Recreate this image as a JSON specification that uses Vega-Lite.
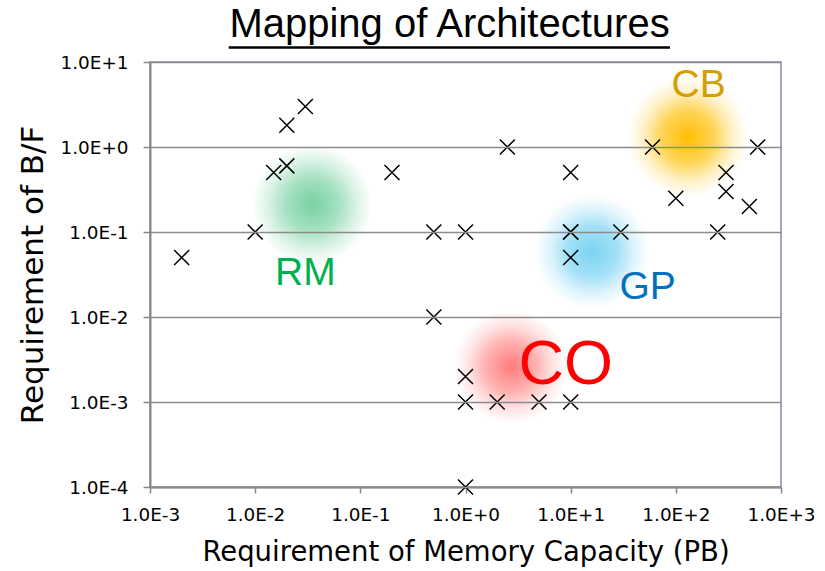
{
  "$schema": "https://vega.github.io/schema/vega-lite/v6.json",
  "width": 631,
  "height": 425,
  "autosize": {"type": "none"},
  "padding": {"left": 150, "top": 62, "right": 44, "bottom": 84},
  "background": "white",
  "title": {"text": "Mapping of Architectures", "font": "Liberation Sans", "fontSize": 40, "fontWeight": "normal", "color": "black", "anchor": "middle", "dx": -16, "offset": 1},
  "config": {
    "view": {"stroke": "#7F8CB0", "strokeWidth": 1.5},
    "axis": {"labelFont": "DejaVu Sans", "titleFont": "DejaVu Sans", "labelColor": "black", "titleColor": "black", "titleFontWeight": "normal"}
  },
  "datasets": {
    "points": [
      {"cap": 0.002, "bf": 0.05},
      {"cap": 0.01, "bf": 0.1},
      {"cap": 0.015, "bf": 0.5},
      {"cap": 0.02, "bf": 0.6},
      {"cap": 0.02, "bf": 1.8},
      {"cap": 0.03, "bf": 3},
      {"cap": 0.2, "bf": 0.5},
      {"cap": 0.5, "bf": 0.1},
      {"cap": 1, "bf": 0.1},
      {"cap": 0.5, "bf": 0.01},
      {"cap": 1, "bf": 0.002},
      {"cap": 1, "bf": 0.001},
      {"cap": 2, "bf": 0.001},
      {"cap": 5, "bf": 0.001},
      {"cap": 10, "bf": 0.001},
      {"cap": 1, "bf": 0.0001},
      {"cap": 2.5, "bf": 1},
      {"cap": 10, "bf": 0.5},
      {"cap": 10, "bf": 0.1},
      {"cap": 10, "bf": 0.1},
      {"cap": 10, "bf": 0.05},
      {"cap": 30, "bf": 0.1},
      {"cap": 60, "bf": 1},
      {"cap": 100, "bf": 0.25},
      {"cap": 300, "bf": 0.5},
      {"cap": 300, "bf": 0.3},
      {"cap": 500, "bf": 0.2},
      {"cap": 600, "bf": 1},
      {"cap": 250, "bf": 0.1}
    ],
    "blobs": [
      {"group": "RM", "cap": 0.035, "bf": 0.21},
      {"group": "GP", "cap": 16, "bf": 0.059},
      {"group": "CB", "cap": 130, "bf": 1.32},
      {"group": "CO", "cap": 2.7, "bf": 0.0026}
    ],
    "labels": [
      {"label": "RM", "cap": 0.03, "bf": 0.033},
      {"label": "GP", "cap": 54, "bf": 0.0225},
      {"label": "CB", "cap": 165, "bf": 5.4},
      {"label": "CO", "cap": 9, "bf": 0.0027}
    ],
    "underline": [
      {"from": 0.0056, "to": 88, "level": 14.8}
    ]
  },
  "encoding": {
    "x": {
      "field": "cap", "type": "quantitative",
      "scale": {"type": "log", "domain": [0.001, 1000]},
      "axis": {
        "title": "Requirement of Memory Capacity (PB)", "titleFontSize": 27.5, "titlePadding": 15,
        "values": [0.001, 0.01, 0.1, 1, 10, 100, 1000],
        "labelExpr": "'1.0E' + (round(log(datum.value)/LN10) >= 0 ? '+' : '') + round(log(datum.value)/LN10)",
        "labelFontSize": 18.4, "labelPadding": 12, "labelFlush": false,
        "grid": false, "domainColor": "#888888", "domainWidth": 2,
        "tickColor": "#888888", "tickSize": 6, "tickWidth": 1.5
      }
    },
    "y": {
      "field": "bf", "type": "quantitative",
      "scale": {"type": "log", "domain": [0.0001, 10]},
      "axis": {
        "title": "Requirement of  B/F", "titleFontSize": 31, "titlePadding": 11,
        "values": [0.0001, 0.001, 0.01, 0.1, 1, 10],
        "labelExpr": "'1.0E' + (round(log(datum.value)/LN10) >= 0 ? '+' : '') + round(log(datum.value)/LN10)",
        "labelFontSize": 18.4, "labelPadding": 15, "labelFlush": false,
        "grid": true, "gridColor": "#8c8c8c", "gridWidth": 1.5,
        "domainColor": "#888888", "domainWidth": 2,
        "tickColor": "#888888", "tickSize": 7, "tickWidth": 1.5,
        "zindex": 1
      }
    }
  },
  "layer": [
    {
      "data": {"name": "blobs"},
      "transform": [{"filter": {"field": "group", "equal": "RM"}}],
      "mark": {"type": "point", "shape": "circle", "size": 14400, "filled": true, "opacity": 1, "strokeWidth": 0,
        "fill": {"gradient": "radial", "stops": [
          {"offset": 0, "color": "rgba(60,190,120,0.7)"},
          {"offset": 0.45, "color": "rgba(60,190,120,0.45)"},
          {"offset": 0.75, "color": "rgba(60,190,120,0.18)"},
          {"offset": 1, "color": "rgba(60,190,120,0)"}]}}
    },
    {
      "data": {"name": "blobs"},
      "transform": [{"filter": {"field": "group", "equal": "GP"}}],
      "mark": {"type": "point", "shape": "circle", "size": 13000, "filled": true, "opacity": 1, "strokeWidth": 0,
        "fill": {"gradient": "radial", "stops": [
          {"offset": 0, "color": "rgba(90,200,240,0.8)"},
          {"offset": 0.45, "color": "rgba(90,200,240,0.55)"},
          {"offset": 0.75, "color": "rgba(90,200,240,0.2)"},
          {"offset": 1, "color": "rgba(90,200,240,0)"}]}}
    },
    {
      "data": {"name": "blobs"},
      "transform": [{"filter": {"field": "group", "equal": "CB"}}],
      "mark": {"type": "point", "shape": "circle", "size": 14400, "filled": true, "opacity": 1, "strokeWidth": 0,
        "fill": {"gradient": "radial", "stops": [
          {"offset": 0, "color": "rgba(255,190,0,1)"},
          {"offset": 0.45, "color": "rgba(255,195,20,0.7)"},
          {"offset": 0.75, "color": "rgba(255,200,40,0.25)"},
          {"offset": 1, "color": "rgba(255,200,40,0)"}]}}
    },
    {
      "data": {"name": "blobs"},
      "transform": [{"filter": {"field": "group", "equal": "CO"}}],
      "mark": {"type": "point", "shape": "circle", "size": 13000, "filled": true, "opacity": 1, "strokeWidth": 0,
        "fill": {"gradient": "radial", "stops": [
          {"offset": 0, "color": "rgba(255,90,90,0.8)"},
          {"offset": 0.45, "color": "rgba(255,100,100,0.5)"},
          {"offset": 0.75, "color": "rgba(255,120,120,0.2)"},
          {"offset": 1, "color": "rgba(255,120,120,0)"}]}}
    },
    {
      "data": {"name": "points"},
      "mark": {"type": "point", "shape": "M-1,-1L1,1M-1,1L1,-1", "size": 225, "filled": false, "stroke": "black", "strokeWidth": 1.5, "opacity": 1}
    },
    {
      "data": {"name": "labels"},
      "transform": [{"filter": "datum.label != 'CO'"}],
      "mark": {"type": "text", "font": "Liberation Sans", "fontSize": 39, "align": "center", "baseline": "middle"},
      "encoding": {
        "text": {"field": "label"},
        "color": {"field": "label", "type": "nominal", "scale": {"domain": ["RM", "GP", "CB", "CO"], "range": ["#00B050", "#0070C0", "#D4A000", "#FF0000"]}, "legend": null}
      }
    },
    {
      "data": {"name": "labels"},
      "transform": [{"filter": "datum.label == 'CO'"}],
      "mark": {"type": "text", "font": "Liberation Sans", "fontSize": 63, "align": "center", "baseline": "middle"},
      "encoding": {
        "text": {"field": "label"},
        "color": {"field": "label", "type": "nominal", "scale": {"domain": ["RM", "GP", "CB", "CO"], "range": ["#00B050", "#0070C0", "#D4A000", "#FF0000"]}, "legend": null}
      }
    },
    {
      "data": {"name": "underline"},
      "mark": {"type": "rule", "color": "black", "strokeWidth": 2.5, "clip": false},
      "encoding": {
        "x": {"field": "from", "type": "quantitative"},
        "x2": {"field": "to"},
        "y": {"field": "level", "type": "quantitative"}
      }
    }
  ]
}
